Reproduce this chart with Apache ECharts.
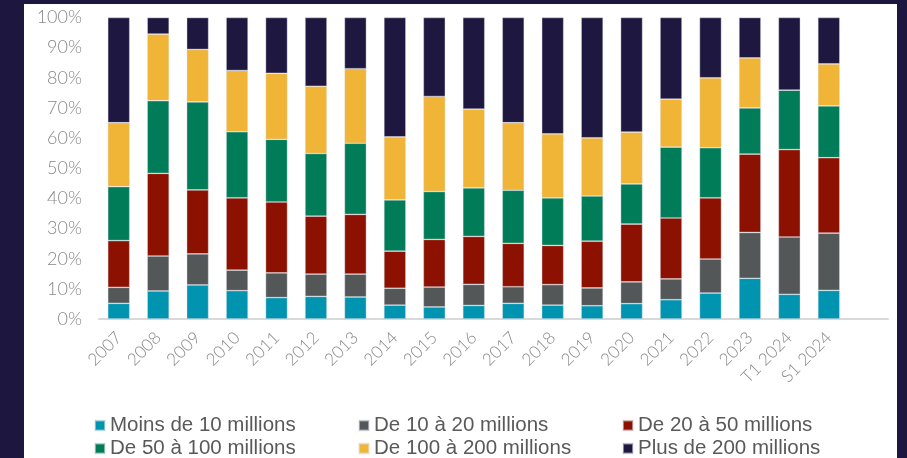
<!DOCTYPE html>
<html>
<head>
<meta charset="utf-8">
<script src="https://cdn.jsdelivr.net/npm/echarts@6/dist/echarts.min.js"></script>
<style>
  html, body { margin: 0; padding: 0; background: #1d163f; }
  #chart { width: 907px; height: 458px; }
</style>
</head>
<body>
<div id="chart"></div>
<script>
const categories = ['2007','2008','2009','2010','2011','2012','2013','2014','2015','2016','2017','2018','2019','2020','2021','2022','2023','T1 2024','S1 2024'];
const yTickLabels = ['0%','10%','20%','30%','40%','50%','60%','70%','80%','90%','100%'];

const moins10   = [5.2, 9.3, 11.3, 9.4, 7.1, 7.5, 7.3, 4.6, 4.0, 4.5, 5.2, 4.6, 4.4, 5.1, 6.4, 8.6, 13.5, 8.2, 9.5];
const de10a20   = [5.3, 11.6, 10.3, 6.8, 8.2, 7.4, 7.6, 5.6, 6.6, 7.0, 5.5, 6.8, 5.9, 7.2, 6.9, 11.3, 15.2, 19.0, 19.0];
const de20a50   = [15.5, 27.4, 21.2, 24.0, 23.5, 19.2, 19.8, 12.3, 15.8, 15.9, 14.4, 13.0, 15.5, 19.2, 20.2, 20.3, 26.0, 29.0, 25.0];
const de50a100  = [17.9, 24.1, 29.2, 21.9, 20.8, 20.8, 23.6, 17.0, 15.9, 16.1, 17.6, 15.8, 15.0, 13.3, 23.5, 16.6, 15.3, 19.7, 17.2];
const de100a200 = [21.2, 22.1, 17.4, 20.3, 21.9, 22.3, 24.7, 20.9, 31.5, 26.1, 22.4, 21.2, 19.3, 17.2, 15.9, 23.2, 16.6, 0, 13.9];
const plus200   = [34.9, 5.5, 10.6, 17.6, 18.5, 22.8, 17.0, 39.6, 26.2, 30.4, 34.9, 38.6, 39.9, 38.0, 27.1, 20.0, 13.4, 24.1, 15.4];

const seriesNames = ['Moins de 10 millions','De 10 à 20 millions','De 20 à 50 millions','De 50 à 100 millions','De 100 à 200 millions','Plus de 200 millions'];
const seriesData = [moins10, de10a20, de20a50, de50a100, de100a200, plus200];
const colors = ['#0094b1','#535757','#8d1100','#007c58','#f0b436','#1e173f'];

const chart = echarts.init(document.getElementById('chart'));

const legendBase = {
  orient: 'vertical',
  icon: 'rect',
  itemWidth: 10,
  itemHeight: 10,
  itemGap: 2,
  top: 415,
  height: 80,
  padding: 0,
  textStyle: { fontFamily: 'Liberation Sans', fontSize: 20.5, color: '#595959', lineHeight: 19 }
};

chart.setOption({
  backgroundColor: '#1d163f',
  animation: false,
  color: colors,
  graphic: [{
    type: 'rect',
    z: -10,
    shape: { x: 24, y: 4, width: 873, height: 454 },
    style: { fill: '#ffffff' }
  }],
  grid: { left: 99, top: 17.5, width: 789, bottom: 139, containLabel: false },
  legend: [
    Object.assign({}, legendBase, { left: 94, data: [seriesNames[0], seriesNames[3]] }),
    Object.assign({}, legendBase, { left: 358, data: [seriesNames[1], seriesNames[4]] }),
    Object.assign({}, legendBase, { left: 622, data: [seriesNames[2], seriesNames[5]] })
  ],
  xAxis: {
    type: 'category',
    data: categories.concat(['']),
    axisLine: { lineStyle: { color: '#d9d9d9', width: 2 } },
    axisTick: { show: false },
    axisLabel: { rotate: 45, margin: 16, color: '#888888', fontFamily: 'Lato', fontWeight: 300, fontSize: 17, interval: 0 }
  },
  yAxis: {
    type: 'value',
    min: 0,
    max: 100,
    interval: 10,
    axisLine: { show: false },
    axisTick: { show: false },
    splitLine: { show: false },
    axisLabel: {
      margin: 17,
      color: '#888888',
      fontFamily: 'Lato',
      fontWeight: 300,
      fontSize: 18,
      formatter: function (v) { return yTickLabels[Math.round(v / 10)]; }
    }
  },
  series: seriesNames.map(function (name, i) {
    return {
      name: name,
      type: 'bar',
      stack: 'total',
      barWidth: 22,
      data: seriesData[i],
      itemStyle: { color: colors[i], borderColor: 'rgba(225,225,235,0.55)', borderWidth: 0.7 }
    };
  })
});
</script>
</body>
</html>
